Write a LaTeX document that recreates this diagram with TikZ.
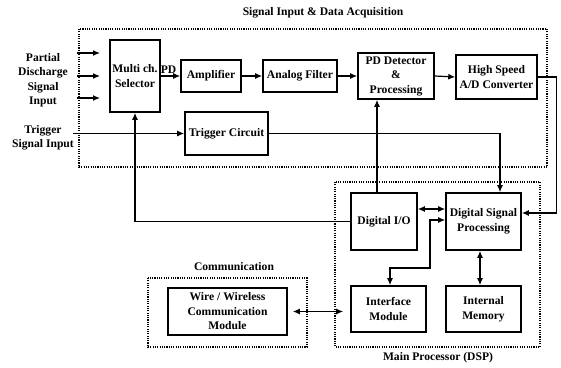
\documentclass[tikz,border=0pt]{standalone}
\usepackage{fontspec}
\setmainfont{Liberation Serif}
\usetikzlibrary{arrows.meta}
\begin{document}
\begin{tikzpicture}[x=1pt,y=-1pt,
  font=\bfseries\fontsize{11.6}{14.5}\selectfont,
  blk/.style={draw, line width=1.6pt, align=center, inner sep=1pt},
  frame/.style={draw, line width=1.5pt, dash pattern=on 1.1pt off 1.2pt},
  conn/.style={line width=1.2pt, -{Latex[length=7pt,width=6pt]}},
  bconn/.style={line width=1.2pt, {Latex[length=7pt,width=6pt]}-{Latex[length=7pt,width=6pt]}},
  lbl/.style={align=center, inner sep=0pt}]
\useasboundingbox (0,0) rectangle (561,367);

% dotted group frames
\draw[frame] (79,29) rectangle (547,167);
\draw[frame] (335,182) rectangle (540,347);
\draw[frame] (148,278) rectangle (307,347);

% group titles
\node[lbl] (tAcq) at (323,13) {Signal Input \& Data Acquisition};
\node[lbl] (tCom) at (234,267) {Communication};
\node[lbl] (tDsp) at (438,358) {Main Processor (DSP)};

% blocks
\node[blk, minimum width=50, minimum height=72] (sel) at (135,76) {Multi ch.\\Selector};
\node[blk, minimum width=60, minimum height=32] (amp) at (211,76) {Amplifier};
\node[blk, minimum width=74, minimum height=32] (flt) at (300,76) {Analog Filter};
\node[blk, minimum width=76, minimum height=46] (pd) at (396,76) {PD Detector\\\&\\Processing};
\node[blk, minimum width=81, minimum height=44] (ad) at (496.5,77) {High Speed\\A/D Converter};
\node[blk, minimum width=83, minimum height=43] (trg) at (226.5,133.5) {Trigger Circuit};
\node[blk, minimum width=66, minimum height=57] (dio) at (384,221.5) {Digital I/O};
\node[blk, minimum width=75, minimum height=57] (dsp) at (483.5,221.5) {Digital Signal\\Processing};
\node[blk, minimum width=75, minimum height=46] (ifm) at (388.5,309) {Interface\\Module};
\node[blk, minimum width=75, minimum height=46] (mem) at (483.5,309) {Internal\\Memory};
\node[blk, minimum width=119, minimum height=47] (wire) at (227.5,311.5) {Wire / Wireless\\Communication\\Module};

% external inputs
\node[lbl] (pdin) at (43,80) {Partial\\Discharge\\Signal\\Input};
\node[lbl] (trin) at (43,138) {Trigger\\Signal Input};
\coordinate (i1a) at (77,53);  \coordinate (i1b) at (100,53);
\coordinate (i2a) at (77,76);  \coordinate (i2b) at (100,76);
\coordinate (i3a) at (77,98);  \coordinate (i3b) at (100,98);
\coordinate (ti) at (73,133.5);
\draw[conn] (i1a) -- (i1b);
\draw[conn] (i2a) -- (i2b);
\draw[conn] (i3a) -- (i3b);
\draw[conn] (ti) -- (trg.west);

% signal chain
\draw[conn] (sel.east) -- node[above, inner sep=2pt, pos=0.4] (pdl) {PD} (amp.west);
\draw[conn] (amp.east) -- (flt.west);
\draw[conn] (flt.east) -- (pd.west);
\draw[conn] (pd.east) -- (ad.west);

% control and data paths
\draw[conn] (trg.east) -| ([xshift=16.5pt]dsp.north);
\draw[conn] ([xshift=-7pt]dio.north) -- ([xshift=-7pt]dio.north |- pd.south);
\draw[conn] (dio.west) -| (sel.south);
\draw[conn] (ad.east) -- ++(19,0) |- ([yshift=8.5pt]dsp.east);
\draw[bconn] ([yshift=12.5pt]dio.east) -- ([yshift=12.5pt]dsp.west);
\coordinate (b1) at (390,268);
\coordinate (b2) at (430,220);
\draw[bconn] (dsp.west |- b2) -- (b2) -- (b2 |- b1) -- (b1) -- (b1 |- ifm.north);
\draw[bconn] ([xshift=-3.5pt]dsp.south) -- ([xshift=-3.5pt]mem.north);
\draw[bconn, shorten <=5pt, shorten >=7pt] (wire.east) -- (wire.east -| ifm.west);
\end{tikzpicture}
\end{document}
